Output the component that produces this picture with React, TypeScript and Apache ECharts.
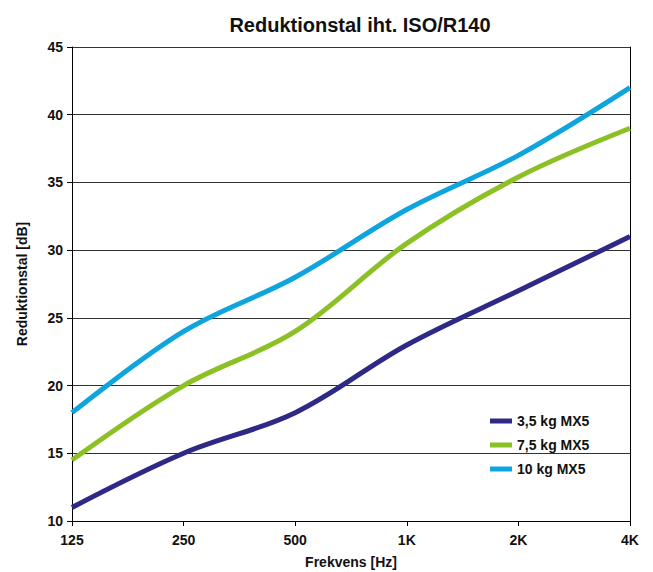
import React, { useEffect, useRef } from "react";
import * as echarts from "echarts";

const categories = ["125", "250", "500", "1K", "2K", "4K"];
const seriesNames = ["3,5 kg MX5", "7,5 kg MX5", "10 kg MX5"];
const values35 = [11, 15, 18, 23, 27, 31];
const values75 = [14.5, 20, 24, 30.5, 35.4, 39];
const values10 = [18, 24, 28, 33, 37, 42];
const colors = ["#2e2886", "#8cc125", "#0ea4de"];

export default function App() {
  const ref = useRef<HTMLDivElement>(null);
  useEffect(() => {
    const chart = echarts.init(ref.current!, null, { renderer: "svg" });
    const font = "Liberation Sans";
    const data = [values35, values75, values10];
    chart.setOption({
      animation: false,
      textStyle: { fontFamily: font },
      title: {
        text: "Reduktionstal iht. ISO/R140",
        left: 347,
        textAlign: "center",
        top: 2,
        textStyle: { fontSize: 20, fontWeight: "bold", color: "#111", fontFamily: font },
      },
      legend: {
        orient: "vertical",
        left: 477,
        top: 401,
        itemWidth: 22,
        itemHeight: 5,
        itemGap: 10,
        icon: "rect",
        data: seriesNames,
        textStyle: { fontSize: 14, fontWeight: "bold", color: "#111", fontFamily: font },
      },
      grid: { left: 64, right: 15, top: 39, bottom: 51, outerBoundsMode: "none", containLabel: false },
      xAxis: {
        type: "category",
        data: categories,
        boundaryGap: false,
        name: "Frekvens [Hz]",
        nameLocation: "middle",
        nameGap: 34,
        nameTextStyle: { fontSize: 14, fontWeight: "bold", color: "#111", fontFamily: font },
        axisLine: { lineStyle: { color: "#000", width: 1 } },
        axisTick: { show: true, length: 5, lineStyle: { color: "#000" } },
        axisLabel: { fontSize: 14, fontWeight: "bold", color: "#111", margin: 12, fontFamily: font },
        splitLine: { show: false },
      },
      yAxis: [
        {
          type: "value",
          min: 10,
          max: 45,
          interval: 5,
          name: "Reduktionstal [dB]",
          nameLocation: "middle",
          nameGap: 43,
          nameRotate: 90,
          nameTextStyle: { fontSize: 14, fontWeight: "bold", color: "#111", fontFamily: font },
          axisLine: { show: true, lineStyle: { color: "#000", width: 1 } },
          axisTick: { show: true, length: 5, lineStyle: { color: "#000" } },
          axisLabel: { fontSize: 14, fontWeight: "bold", color: "#111", margin: 9, fontFamily: font },
          splitLine: { show: true, lineStyle: { color: "#333", width: 1 } },
        },
        {
          type: "value",
          min: 10,
          max: 45,
          interval: 5,
          position: "right",
          axisLine: { show: true, lineStyle: { color: "#000", width: 1 } },
          axisTick: { show: false },
          axisLabel: { show: false },
          splitLine: { show: false },
        },
      ],
      series: seriesNames.map((name, i) => ({
        name,
        type: "line",
        data: data[i],
        smooth: 0.35,
        symbol: "none",
        lineStyle: { width: 5, color: colors[i] },
        itemStyle: { color: colors[i] },
      })),
    });
    return () => chart.dispose();
  }, []);
  return <div ref={ref} style={{ width: 637, height: 564 }} />;
}
